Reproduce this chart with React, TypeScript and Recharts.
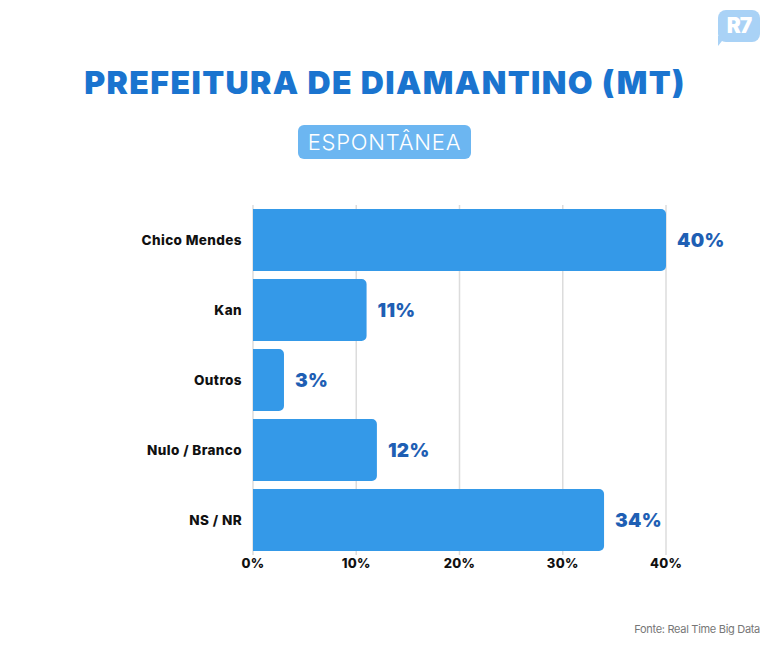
import { Bar, BarChart, CartesianGrid, LabelList, XAxis, YAxis } from "recharts";

const candidates = ["Chico Mendes", "Kan", "Outros", "Nulo / Branco", "NS / NR"];
const shares = [40, 11, 3, 12, 34];
const axisTicks = [0, 10, 20, 30, 40];

const rows = candidates.map((name, i) => ({ name, value: shares[i] }));

const FONT = "Inter, 'Open Sans', sans-serif";

function ValueLabel(props: any) {
  const { x, y, width, height, value } = props;
  return (
    <text
      x={x + width + 11}
      y={y + height / 2}
      dy="0.36em"
      fill="#1f5fb4"
      fontFamily={FONT}
      fontWeight={900}
      fontSize={19}
      letterSpacing={0.3}
    >
      {value}%
    </text>
  );
}

export default function App() {
  return (
    <div
      style={{
        position: "absolute",
        left: 0,
        top: 0,
        width: 770,
        height: 650,
        background: "#fff",
        fontFamily: FONT,
      }}
    >
      {/* R7 logo */}
      <div
        style={{
          position: "absolute",
          left: 718,
          top: 10,
          width: 42,
          height: 32,
          background: "#a9d2f6",
          borderRadius: 8,
          color: "#fff",
          fontWeight: 900,
          fontSize: 21,
          lineHeight: "32px",
          textAlign: "center",
          letterSpacing: -1,
        }}
      >
        R7
      </div>
      <div
        style={{
          position: "absolute",
          left: 718,
          top: 36,
          width: 0,
          height: 0,
          borderTop: "10px solid #a9d2f6",
          borderRight: "8px solid transparent",
        }}
      />

      <div
        style={{
          position: "absolute",
          left: 0,
          top: 62,
          width: 770,
          textAlign: "center",
          color: "#1a74cf",
          fontWeight: 900,
          fontSize: 32,
          lineHeight: "42px",
          letterSpacing: 1.4,
        }}
      >
        PREFEITURA DE DIAMANTINO (MT)
      </div>

      <div
        style={{
          position: "absolute",
          left: 298,
          top: 125,
          width: 173,
          height: 34,
          background: "#6cb6f1",
          borderRadius: 6,
          color: "#fff",
          fontWeight: 300,
          fontSize: 22,
          lineHeight: "34px",
          textAlign: "center",
          letterSpacing: 0.8,
        }}
      >
        ESPONTÂNEA
      </div>

      <div style={{ position: "absolute", left: 0, top: 0 }}>
        <BarChart
          width={770}
          height={650}
          data={rows}
          layout="vertical"
          margin={{ top: 205, right: 104, bottom: 65, left: 0 }}
          barSize={62}
        >
          <CartesianGrid horizontal={false} stroke="#dcdcdc" strokeWidth={1.5} />
          <XAxis
            type="number"
            domain={[0, 40]}
            ticks={axisTicks}
            tickFormatter={(v) => `${v}%`}
            axisLine={false}
            tickLine={false}
            tickSize={0}
            tickMargin={4}
            height={30}
            tick={{ fill: "#111", fontFamily: FONT, fontWeight: 800, fontSize: 13, letterSpacing: 0.3 }}
          />
          <YAxis
            type="category"
            dataKey="name"
            width={253}
            axisLine={false}
            tickLine={false}
            tickSize={0}
            tickMargin={11}
            tick={{ fill: "#111", fontFamily: FONT, fontWeight: 800, fontSize: 13.5, letterSpacing: 0.4 }}
          />
          <Bar dataKey="value" fill="#3499e8" radius={[0, 5, 5, 0]} isAnimationActive={false}>
            <LabelList dataKey="value" content={ValueLabel} />
          </Bar>
        </BarChart>
      </div>

      <div
        style={{
          position: "absolute",
          right: 10,
          top: 622,
          color: "#777",
          fontSize: 11,
          letterSpacing: -0.3,
        }}
      >
        Fonte: Real Time Big Data
      </div>
    </div>
  );
}
